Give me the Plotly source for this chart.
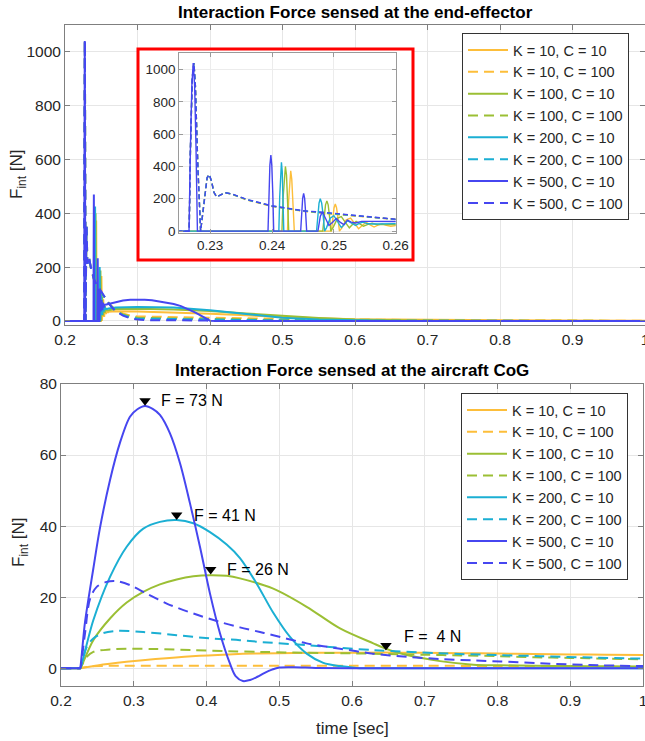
import plotly.graph_objects as go

W, H = 645, 741

def px_x(p):
    return p / W

def px_y(p):
    return (H - p) / H

FONT = "Liberation Sans, Arial, Helvetica, sans-serif"

# ---------------- series definitions ----------------
names = ["K = 10, C = 10", "K = 10, C = 100", "K = 100, C = 10", "K = 100, C = 100",
         "K = 200, C = 10", "K = 200, C = 100", "K = 500, C = 10", "K = 500, C = 100"]
colors = ["#FDBE3A", "#FDBE3A", "#9BBF34", "#9BBF34",
          "#1BAFD3", "#1BAFD3", "#4646F0", "#4646F0"]
is_dashed = [False, True, False, True, False, True, False, True]

# ---------------- end-effector force (top plot) ----------------
ee_t_k10c10 = [0.2, 0.2425, 0.24268, 0.24285, 0.24302, 0.24319, 0.24336, 0.2436,
               0.2496, 0.24982, 0.25003, 0.25023, 0.25043, 0.25065, 0.2509,
               0.2513, 0.2520, 0.2527, 0.2533, 0.2540, 0.2546, 0.2552, 0.2558, 0.2565, 0.2572, 0.2578,
               0.2585, 0.2592, 0.26, 0.27, 0.30, 0.35, 0.40, 0.45, 0.50, 0.55, 0.60, 0.70, 0.80, 0.90, 1.0]
ee_f_k10c10 = [0, 0, 185, 320, 373, 320, 185, 0,
               0, 84, 145, 167, 145, 84, 0,
               20, 70, 80, 50, 15, 35, 55, 40, 25, 38, 45,
               35, 30, 34, 36, 35, 32, 27, 21, 15, 10, 6, 4, 2.5, 1.5, 1]

ee_t_k10c100 = [0.2, 0.2266, 0.2268, 0.2271, 0.22737, 0.2276, 0.2280, 0.22845, 0.2287, 0.2291, 0.2295,
                0.22984, 0.2302, 0.2306, 0.23103, 0.2316, 0.23237, 0.2335, 0.2359, 0.24, 0.245, 0.25,
                0.255, 0.26, 0.265, 0.27, 0.28, 0.29, 0.30, 0.35, 0.40, 0.50, 0.60, 0.70, 0.80, 0.90, 1.0]
ee_f_k10c100 = [0, 0, 500, 950, 1040, 900, 400, 0, 80, 220, 330,
                350, 310, 240, 212, 222, 238, 228, 192, 152, 123, 104,
                84, 66, 54, 42, 28, 20, 17, 14, 12, 8, 5, 3, 2, 1, 0.5]

ee_t_k100c10 = [0.2, 0.2416, 0.24178, 0.24197, 0.24216, 0.24234, 0.24252, 0.2427,
                0.2482, 0.24842, 0.24865, 0.24887, 0.24908, 0.24929, 0.2495,
                0.2499, 0.2506, 0.2512, 0.2518, 0.2525, 0.2530, 0.2536, 0.2542, 0.2548, 0.2555, 0.2562,
                0.2570, 0.26, 0.27, 0.30, 0.35, 0.40, 0.45, 0.50, 0.55, 0.60, 0.65, 0.70, 0.80, 1.0]
ee_f_k100c10 = [0, 0, 200, 346, 400, 346, 200, 0,
                0, 94, 162, 187, 162, 94, 0,
                25, 80, 90, 55, 20, 40, 60, 45, 30, 42, 48,
                40, 40, 44, 45, 43, 37, 28, 19, 11, 5, 2, 0.8, 0.2, 0]

ee_t_k100c100 = [0.2, 0.2266, 0.2268, 0.2271, 0.22737, 0.2276, 0.2280, 0.22845, 0.2287, 0.2291, 0.2295,
                 0.22984, 0.2302, 0.2306, 0.23103, 0.2316, 0.23237, 0.2335, 0.2359, 0.24, 0.245, 0.25,
                 0.255, 0.26, 0.265, 0.27, 0.28, 0.29, 0.30, 0.35, 0.40, 0.50, 0.60, 0.70, 0.80, 0.90, 1.0]
ee_f_k100c100 = [0, 0, 500, 950, 1040, 900, 400, 0, 80, 220, 330,
                 350, 310, 240, 212, 222, 238, 229, 194, 154, 124, 106,
                 86, 66, 50, 38, 24, 16, 12, 9, 7, 4, 2, 1, 0.5, 0.2, 0]

ee_t_k200c10 = [0.2, 0.2411, 0.24124, 0.24138, 0.24152, 0.24165, 0.24178, 0.2419,
                0.2472, 0.24740, 0.24760, 0.2478, 0.24803, 0.24826, 0.2485,
                0.2488, 0.2494, 0.2500, 0.2506, 0.2512, 0.2517, 0.2522, 0.2528, 0.2535, 0.2541, 0.2547,
                0.2555, 0.2565, 0.26, 0.27, 0.30, 0.35, 0.40, 0.45, 0.50, 0.55, 0.60, 0.65, 0.70, 1.0]
ee_f_k200c10 = [0, 0, 212, 368, 425, 368, 212, 0,
                0, 100, 173, 200, 173, 100, 0,
                20, 80, 95, 60, 22, 40, 65, 50, 35, 48, 55,
                45, 44, 46, 50, 52, 50, 40, 25, 12, 5, 1.5, 0.3, 0, 0]

ee_t_k200c100 = [0.2, 0.2266, 0.2268, 0.2271, 0.22737, 0.2276, 0.2280, 0.22845, 0.2287, 0.2291, 0.2295,
                 0.22984, 0.2302, 0.2306, 0.23103, 0.2316, 0.23237, 0.2335, 0.2359, 0.24, 0.245, 0.25,
                 0.255, 0.26, 0.265, 0.27, 0.28, 0.29, 0.30, 0.35, 0.40, 0.50, 0.60, 0.70, 0.80, 0.90, 1.0]
ee_f_k200c100 = [0, 0, 500, 950, 1040, 900, 400, 0, 80, 220, 330,
                 350, 310, 240, 212, 222, 238, 229, 195, 155, 125, 108,
                 87, 66, 50, 37, 22, 13, 9, 7, 5, 2, 0.8, 0.3, 0, 0, 0]

ee_t_k500c10 = [0.2, 0.22657, 0.2268, 0.22703, 0.22725, 0.22748, 0.2277, 0.22793,
                0.23935, 0.2395, 0.23965, 0.23981, 0.23996, 0.24012, 0.24027,
                0.24463, 0.24479, 0.24495, 0.24511, 0.24527, 0.24543, 0.2456,
                0.24742, 0.2478, 0.24813, 0.2485, 0.2492, 0.2498, 0.2504, 0.2510, 0.2516, 0.2522,
                0.2528, 0.2535, 0.2545, 0.2555,
                0.26, 0.27, 0.28, 0.29, 0.30, 0.31, 0.32, 0.33, 0.34, 0.35, 0.36, 0.37, 0.38,
                0.39, 0.40, 0.41, 1.0]
ee_f_k500c10 = [0, 0, 520, 900, 1040, 900, 520, 0,
                0, 235, 407, 470, 407, 235, 0,
                0, 116, 202, 233, 202, 116, 0,
                0, 90, 120, 90, 35, 55, 78, 55, 40, 68,
                55, 50, 60, 60,
                63, 70, 76, 79, 80, 79, 77, 73, 68, 63, 55, 44, 31,
                16, 1, 0, 0]

ee_t_k500c100 = [0.2, 0.2266, 0.2268, 0.2271, 0.22737, 0.2276, 0.2280, 0.22845, 0.2287, 0.2291, 0.2295,
                 0.22984, 0.2302, 0.2306, 0.23103, 0.2316, 0.23237, 0.2335, 0.2359, 0.24, 0.245, 0.25,
                 0.255, 0.26, 0.265, 0.27, 0.28, 0.29, 0.30, 0.31, 0.32, 0.395, 0.3995, 1.0]
ee_f_k500c100 = [0, 0, 500, 950, 1040, 900, 400, 0, 80, 220, 330,
                 350, 310, 240, 212, 222, 238, 230, 196, 156, 126, 110,
                 88, 66, 50, 36, 20, 10, 5, 3, 2.5, 2, 0, 0]

# ---------------- aircraft CoG force (bottom plot) ----------------
cog_t_k10c10 = [0.2, 0.2262, 0.2265, 0.25, 0.29, 0.33, 0.38, 0.43, 0.47, 0.52, 0.58, 0.647,
                0.70, 0.75, 0.80, 0.85, 0.90, 0.95, 1.0]
cog_f_k10c10 = [0, 0, 0, 0.8, 1.8, 2.6, 3.4, 3.9, 4.15, 4.3, 4.35, 4.4,
                4.35, 4.25, 4.15, 4.0, 3.9, 3.8, 3.7]

cog_t_k10c100 = [0.2, 0.2262, 0.2265, 0.24, 0.26, 0.30, 0.40, 0.50, 0.60, 0.70, 0.80, 0.90, 1.0]
cog_f_k10c100 = [0, 0, 0, 0.5, 0.65, 0.7, 0.72, 0.72, 0.7, 0.68, 0.65, 0.62, 0.6]

cog_t_k100c10 = [0.2, 0.2262, 0.2265, 0.2444, 0.2674, 0.2903, 0.3131, 0.336, 0.359, 0.382, 0.405,
                 0.428, 0.446, 0.4918, 0.5377, 0.5835, 0.6293, 0.652, 0.6752, 0.721, 0.7667,
                 0.8034, 0.85, 0.90, 0.95, 1.0]
cog_f_k100c10 = [0, 0, 0, 7.9, 14, 18.5, 21.5, 23.6, 25, 25.9, 26.2,
                 26, 25.3, 22.4, 17.3, 11.2, 7, 5.1, 3.7, 2, 1.0,
                 0.85, 0.7, 0.6, 0.55, 0.5]

cog_t_k100c100 = [0.2, 0.2262, 0.2265, 0.2353, 0.2444, 0.2674, 0.29, 0.33, 0.38, 0.43, 0.4735, 0.52,
                  0.60, 0.65, 0.70, 0.75, 0.80, 0.85, 0.90, 0.95, 1.0]
cog_f_k100c100 = [0, 0, 0, 3.2, 4.6, 5.3, 5.5, 5.4, 5.1, 4.8, 4.6, 4.4,
                  4.2, 4.0, 3.8, 3.6, 3.4, 3.1, 2.9, 2.7, 2.5]

cog_t_k200c10 = [0.2, 0.2262, 0.2265, 0.2444, 0.2674, 0.2903, 0.3131, 0.336, 0.359, 0.3819, 0.4048,
                 0.4277, 0.446, 0.469, 0.4918, 0.5148, 0.5377, 0.5606, 0.5835, 0.606, 0.65,
                 0.70, 0.80, 0.90, 1.0]
cog_f_k200c10 = [0, 0, 0, 13.5, 25.7, 34.2, 39.3, 41.2, 41.7, 40.8, 38.3,
                 34.8, 31.0, 23.8, 15.6, 8.8, 4.1, 1.5, 0.6, 0.1, 0,
                 0, 0, 0, 0]

cog_t_k200c100 = [0.2, 0.2262, 0.2265, 0.2353, 0.2444, 0.2582, 0.2765, 0.3131, 0.359, 0.405, 0.446,
                  0.4735, 0.5377, 0.6293, 0.721, 0.80, 0.8584, 0.93, 1.0]
cog_f_k200c100 = [0, 0, 0, 6, 8.4, 9.9, 10.5, 10.2, 9.3, 8.4, 7.9,
                  7.4, 6.5, 5.1, 4.2, 3.7, 3.4, 3.0, 2.7]

cog_t_k500c10 = [0.2, 0.2258, 0.2261, 0.233, 0.2444, 0.2536, 0.2674, 0.2811, 0.2948, 0.305, 0.3155,
                 0.326, 0.336, 0.3498, 0.3636, 0.3773, 0.391, 0.4048, 0.4186, 0.4323, 0.44, 0.45,
                 0.46, 0.47, 0.48, 0.49, 0.50, 0.52, 0.55, 0.60, 1.0]
cog_f_k500c10 = [0, 0, 0, 13, 28, 39.5, 53, 63.5, 70.8, 72.9, 73.8,
                 73.0, 71.3, 66.1, 57.7, 46.4, 34.2, 21, 9.8, 1.3, -2.2, -3.6,
                 -3.3, -2.4, -1.3, -0.4, 0.2, 0.3, 0.1, 0, 0]

cog_t_k500c100 = [0.2, 0.2262, 0.2265, 0.233, 0.2399, 0.2491, 0.2628, 0.2765, 0.2948, 0.3178, 0.3453,
                  0.3819, 0.4186, 0.446, 0.4735, 0.4918, 0.5377, 0.5835, 0.6293, 0.6752, 0.721,
                  0.7667, 0.8034, 0.8584, 0.9271, 1.0]
cog_f_k500c100 = [0, 0, 0, 9.8, 19.5, 22.9, 24.3, 24.5, 23.4, 21, 18.2,
                  15.4, 13, 11.5, 10.2, 9.3, 7, 5.5, 4.1, 3.2, 2.6,
                  2.2, 1.9, 1.4, 0.9, 0.6]

# peak annotations (bottom plot)
peak_t = [0.3155, 0.359, 0.4058, 0.6467]
peak_marker_f = [75.3, 43.1, 27.8, 6.4]
peak_labels = ["F = 73 N", "F = 41 N", "F = 26 N", "F =  4 N"]
label_t = [0.3351, 0.3798, 0.4261, 0.6692]
label_f = [75.3, 43.1, 27.8, 8.8]

x_ticks = [0.2, 0.3, 0.4, 0.5, 0.6, 0.7, 0.8, 0.9, 1.0]
x_ticktext = ["0.2", "0.3", "0.4", "0.5", "0.6", "0.7", "0.8", "0.9", "1"]
ee_y_ticks = [0, 200, 400, 600, 800, 1000]
cog_y_ticks = [0, 20, 40, 60, 80]
inset_x_ticks = [0.23, 0.24, 0.25, 0.26]

ee_t = [ee_t_k10c10, ee_t_k10c100, ee_t_k100c10, ee_t_k100c100,
        ee_t_k200c10, ee_t_k200c100, ee_t_k500c10, ee_t_k500c100]
ee_f = [ee_f_k10c10, ee_f_k10c100, ee_f_k100c10, ee_f_k100c100,
        ee_f_k200c10, ee_f_k200c100, ee_f_k500c10, ee_f_k500c100]
cog_t = [cog_t_k10c10, cog_t_k10c100, cog_t_k100c10, cog_t_k100c100,
         cog_t_k200c10, cog_t_k200c100, cog_t_k500c10, cog_t_k500c100]
cog_f = [cog_f_k10c10, cog_f_k10c100, cog_f_k100c10, cog_f_k100c100,
         cog_f_k200c10, cog_f_k200c100, cog_f_k500c10, cog_f_k500c100]

for a, b in list(zip(ee_t, ee_f)) + list(zip(cog_t, cog_f)):
    assert len(a) == len(b), (len(a), len(b))

fig = go.Figure()

# top main plot
for i in range(8):
    fig.add_trace(go.Scatter(
        x=ee_t[i], y=ee_f[i], mode="lines", name=names[i],
        line=dict(color=colors[i], width=2, dash="10px,6px" if is_dashed[i] else "solid"),
        xaxis="x", yaxis="y", legend="legend", showlegend=True, hoverinfo="skip"))

# bottom plot
for i in range(8):
    fig.add_trace(go.Scatter(
        x=cog_t[i], y=cog_f[i], mode="lines", name=names[i],
        line=dict(color=colors[i], width=2, dash="10px,6px" if is_dashed[i] else "solid",
                  shape="spline", smoothing=0.9),
        xaxis="x2", yaxis="y2", legend="legend2", showlegend=True, hoverinfo="skip"))

fig.add_trace(go.Scatter(
    x=peak_t, y=peak_marker_f, mode="markers",
    marker=dict(symbol="triangle-down", size=10, color="black"),
    xaxis="x2", yaxis="y2", showlegend=False, hoverinfo="skip"))

# white cover behind the inset (dummy subplot)
fig.add_trace(go.Scatter(x=[None], y=[None], xaxis="x3", yaxis="y3",
                         showlegend=False, hoverinfo="skip"))

# inset
for i in range(8):
    fig.add_trace(go.Scatter(
        x=ee_t[i], y=ee_f[i], mode="lines", name=names[i],
        line=dict(color=colors[i], width=1.4, dash="5px,3px" if is_dashed[i] else "solid"),
        xaxis="x4", yaxis="y4", showlegend=False, hoverinfo="skip"))

AXC = "#7f7f7f"
GRID = "#e6e6e6"
TICKF = dict(family=FONT, size=15.5, color="#262626")

common = dict(showline=True, linecolor=AXC, linewidth=1, mirror="ticks", ticks="inside",
              ticklen=5, tickcolor=AXC, showgrid=True, gridcolor=GRID, gridwidth=1,
              zeroline=False, tickfont=TICKF, automargin=False, ticklabeloverflow="allow")

inset_common = dict(showline=True, linecolor="#9a9a9a", mirror="ticks", ticks="inside",
                    ticklen=4, tickcolor="#9a9a9a", showgrid=True, gridcolor="#ececec",
                    zeroline=False, automargin=False, ticklabeloverflow="allow",
                    tickfont=dict(family=FONT, size=13.5, color="#262626"))

legend_common = dict(xanchor="left", yanchor="top", bgcolor="white", bordercolor="#333333",
                     borderwidth=1, font=dict(family=FONT, size=14.5, color="#262626"),
                     itemwidth=40, tracegroupgap=0)

fig.update_layout(
    width=W, height=H,
    margin=dict(l=0, r=0, t=0, b=0, pad=0, autoexpand=False),
    paper_bgcolor="white", plot_bgcolor="white",
    font=dict(family=FONT, color="#262626"),
    xaxis=dict(domain=[px_x(65), 1.0], range=[0.2, 1.0], tickvals=x_ticks, ticktext=x_ticktext,
               anchor="y", **common),
    yaxis=dict(domain=[px_y(325), px_y(24.8)], range=[-15, 1100], tickvals=ee_y_ticks,
               anchor="x", **common),
    xaxis2=dict(domain=[px_x(61), px_x(643)], range=[0.2, 1.0], tickvals=x_ticks, ticktext=x_ticktext,
                anchor="y2", **common),
    yaxis2=dict(domain=[px_y(686), px_y(384)], range=[-5, 80], tickvals=cog_y_ticks,
                anchor="x2", **common),
    xaxis3=dict(domain=[px_x(138), px_x(413)], visible=False, anchor="y3", range=[0, 1]),
    yaxis3=dict(domain=[px_y(260), px_y(49)], visible=False, anchor="x3", range=[0, 1]),
    xaxis4=dict(domain=[px_x(179.3), px_x(395.7)], range=[0.225, 0.26], tickvals=inset_x_ticks,
                anchor="y4", **inset_common),
    yaxis4=dict(domain=[px_y(232.7), px_y(53.3)], range=[-10, 1100], tickvals=ee_y_ticks,
                anchor="x4", **inset_common),
    legend=dict(x=px_x(462), y=px_y(33), **legend_common),
    legend2=dict(x=px_x(461), y=px_y(393), **legend_common),
    shapes=[dict(type="rect", xref="paper", yref="paper",
                 x0=px_x(138), x1=px_x(413), y0=px_y(260), y1=px_y(49),
                 line=dict(color="#ff0000", width=3), fillcolor="rgba(0,0,0,0)", layer="above")],
)

annotations = [
    dict(text="<b>Interaction Force sensed at the end-effector</b>", x=px_x(355), y=px_y(12),
         xref="paper", yref="paper", showarrow=False, xanchor="center", yanchor="middle",
         font=dict(family=FONT, size=17, color="#000000")),
    dict(text="<b>Interaction Force sensed at the aircraft CoG</b>", x=px_x(352), y=px_y(371),
         xref="paper", yref="paper", showarrow=False, xanchor="center", yanchor="middle",
         font=dict(family=FONT, size=17, color="#000000")),
    dict(text="F<sub>int</sub> [N]", x=px_x(18), y=px_y(175), xref="paper", yref="paper",
         showarrow=False, textangle=-90, xanchor="center", yanchor="middle",
         font=dict(family=FONT, size=17, color="#262626")),
    dict(text="F<sub>int</sub> [N]", x=px_x(20), y=px_y(543), xref="paper", yref="paper",
         showarrow=False, textangle=-90, xanchor="center", yanchor="middle",
         font=dict(family=FONT, size=17, color="#262626")),
    dict(text="time [sec]", x=px_x(353), y=px_y(728), xref="paper", yref="paper",
         showarrow=False, xanchor="center", yanchor="middle",
         font=dict(family=FONT, size=17, color="#262626")),
]
for lt, lf, lab in zip(label_t, label_f, peak_labels):
    annotations.append(dict(text=lab, x=lt, y=lf, xref="x2", yref="y2", showarrow=False,
                            xanchor="left", yanchor="middle",
                            font=dict(family=FONT, size=16, color="#000000")))
fig.update_layout(annotations=annotations)

fig.write_html("out.html",
               config={"displayModeBar": False},
               post_script="document.body.style.margin='0';document.body.style.overflow='hidden';")
